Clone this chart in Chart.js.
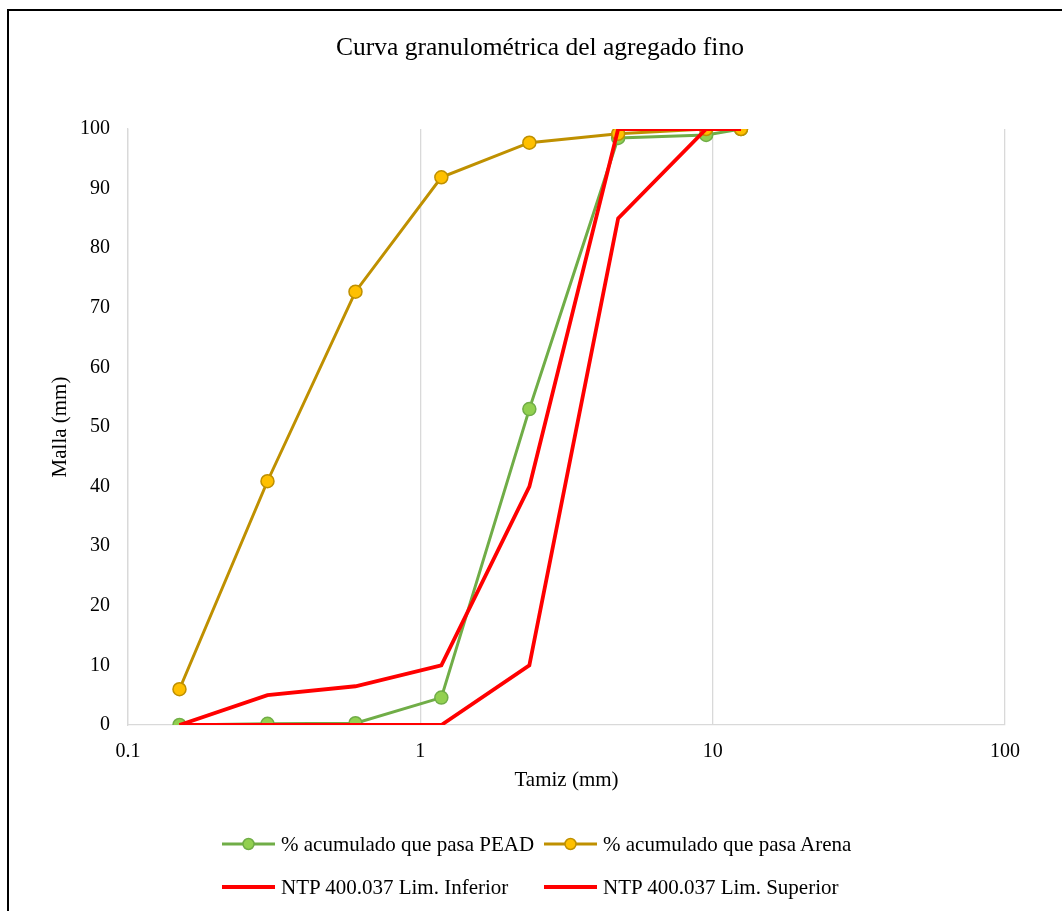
<!DOCTYPE html>
<html>
<head>
<meta charset="utf-8">
<script src="https://cdn.jsdelivr.net/npm/chart.js@4/dist/chart.umd.min.js"></script>
<style>
  html, body { margin: 0; padding: 0; background: #fff; }
  #wrap { position: relative; width: 1062px; height: 911px; overflow: hidden; }
  #frame { position: absolute; left: 7px; top: 9px; right: -10px; bottom: -10px;
           border-left: 2px solid #000; border-top: 2px solid #000; }
  #grafico { position: absolute; left: 0; top: 0; }
  #leyenda { position: absolute; left: 222px; top: 829px; display: grid;
             grid-template-columns: 322px auto; row-gap: 13px;
             font-family: "Liberation Serif", "Times New Roman", serif; font-size: 21px; color: #000; }
  .item { display: flex; align-items: center; height: 30px; white-space: nowrap; }
  .item canvas { margin-right: 6px; }
</style>
</head>
<body>
<div id="wrap">
  <div id="frame"></div>
  <canvas id="grafico" width="1062" height="911"></canvas>
  <div id="leyenda"></div>
</div>
<script>
// abertura del tamiz (mm)
const tamiz = [0.15, 0.3, 0.6, 1.18, 2.36, 4.75, 9.5, 12.5];
// % acumulado que pasa
const pasaPEAD = [0, 0.2, 0.3, 4.6, 53.0, 98.5, 99.0, 100];
const pasaArena = [6.0, 40.9, 72.7, 91.9, 97.7, 99.2, 100, 100];
const limInferior = [0, 0, 0, 0, 10, 85, 100, 100];
const limSuperior = [0, 5, 6.5, 10, 40, 100, 100, 100];

const xTicks = [0.1, 1, 10, 100];
const yTicks = [0, 10, 20, 30, 40, 50, 60, 70, 80, 90, 100];

const serif = '"Liberation Serif", "Times New Roman", serif';

function puntos(valores) {
    return tamiz.map((t, i) => ({ x: t, y: valores[i] }));
}

const datasets = [
    {
        label: '% acumulado que pasa PEAD', data: puntos(pasaPEAD),
        borderColor: '#70AD47', borderWidth: 3,
        pointRadius: 6.5, pointBackgroundColor: '#92D050', pointBorderColor: '#70AD47', pointBorderWidth: 1.5,
        order: 4
    },
    {
        label: '% acumulado que pasa Arena', data: puntos(pasaArena),
        borderColor: '#BF9000', borderWidth: 3,
        pointRadius: 6.5, pointBackgroundColor: '#FFC000', pointBorderColor: '#BF9000', pointBorderWidth: 1.5,
        order: 3
    },
    {
        label: 'NTP 400.037 Lim. Inferior', data: puntos(limInferior),
        borderColor: '#FF0000', borderWidth: 3.8, pointRadius: 0,
        order: 2
    },
    {
        label: 'NTP 400.037 Lim. Superior', data: puntos(limSuperior),
        borderColor: '#FF0000', borderWidth: 3.8, pointRadius: 0,
        order: 1
    }
];

const chart = new Chart(document.getElementById('grafico'), {
    type: 'line',
    data: { datasets: datasets },
    options: {
        responsive: false,
        animation: false,
        elements: { line: { tension: 0 } },
        layout: { padding: { left: 20, right: 2, top: 0, bottom: 111 } },
        plugins: {
            legend: { display: false },
            tooltip: { enabled: false },
            title: {
                display: true,
                text: 'Curva granulométrica del agregado fino',
                color: '#000',
                font: { family: serif, size: 25.5, weight: 'normal' },
                padding: { top: 33, bottom: 65.4 }
            }
        },
        scales: {
            x: {
                type: 'logarithmic',
                min: 0.1, max: 100,
                afterBuildTicks: s => { s.ticks = xTicks.map(v => ({ value: v })); },
                afterFit: s => { s.height = 75; },
                ticks: {
                    color: '#000', padding: 15,
                    font: { family: serif, size: 20 },
                    callback: v => String(v)
                },
                grid: { color: '#d9d9d9', lineWidth: 1.3, drawTicks: false },
                border: { color: '#d9d9d9', width: 1.3 },
                title: {
                    display: true, text: 'Tamiz (mm)', color: '#000',
                    font: { family: serif, size: 21 }, padding: { top: 0, bottom: 7 }
                }
            },
            y: {
                min: 0, max: 100,
                afterBuildTicks: s => { s.ticks = yTicks.map(v => ({ value: v })); },
                afterFit: s => { s.width = 108; },
                ticks: { color: '#000', padding: 18, font: { family: serif, size: 20 } },
                grid: { display: false, drawTicks: false },
                border: { color: '#d9d9d9', width: 1.3 },
                title: {
                    display: true, text: 'Malla (mm)', color: '#000',
                    font: { family: serif, size: 21 }, padding: { top: 27.4, bottom: 0 }
                }
            },
            yDer: {
                position: 'right',
                afterFit: s => { s.width = 55; },
                ticks: { display: false },
                grid: { display: false },
                border: { display: false }
            }
        }
    }
});

// leyenda en dos columnas, como en la hoja de cálculo
const leyenda = document.getElementById('leyenda');
chart.data.datasets.forEach(ds => {
    const item = document.createElement('div');
    item.className = 'item';
    const muestra = document.createElement('canvas');
    muestra.width = 53; muestra.height = 16;
    const c = muestra.getContext('2d');
    c.strokeStyle = ds.borderColor;
    c.lineWidth = ds.borderWidth;
    c.beginPath(); c.moveTo(0, 8); c.lineTo(53, 8); c.stroke();
    if (ds.pointRadius > 0) {
        c.beginPath(); c.arc(26.5, 8, 5.5, 0, Math.PI * 2);
        c.fillStyle = ds.pointBackgroundColor; c.fill();
        c.lineWidth = ds.pointBorderWidth; c.strokeStyle = ds.pointBorderColor; c.stroke();
    }
    item.appendChild(muestra);
    const texto = document.createElement('span');
    texto.textContent = ds.label;
    item.appendChild(texto);
    leyenda.appendChild(item);
});
</script>
</body>
</html>
